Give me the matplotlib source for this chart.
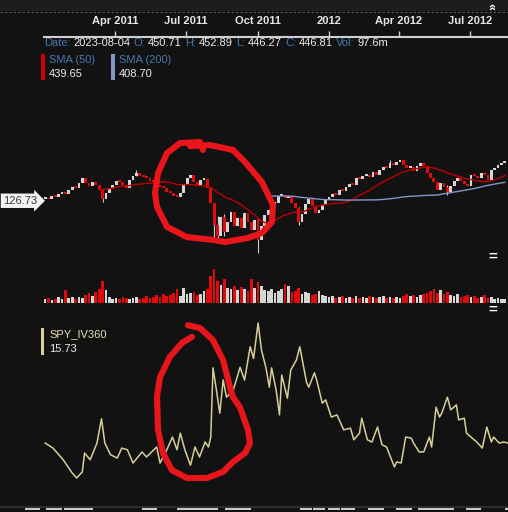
import numpy as np
import pandas as pd
import matplotlib
matplotlib.use("Agg")
import matplotlib.pyplot as plt
from matplotlib.patches import Rectangle
from matplotlib.lines import Line2D
from matplotlib.transforms import blended_transform_factory

W, H = 508, 512
BG = "#121212"
BLUE = "#4677ad"
WHITE = "#ececec"
UP = "#d6d6d6"
DOWN = "#e00c0c"
IVC = "#d6cf98"
INK = "#e8161b"
plt.rcParams["font.family"] = ["Liberation Sans", "DejaVu Sans"]

# x axis = trading days since 3 Jan 2011
tick_days = [62, 125, 189, 252, 314, 377]
tick_labels = ["Apr 2011", "Jul 2011", "Oct 2011", "2012", "Apr 2012", "Jul 2012"]

# one candle every 3 trading days
candle_days = np.arange(0, 409, 3)
first_open = 127.3
closes = [127.7, 127.2, 128.4, 128.0, 129.2, 129.9, 129.3, 130.6, 131.9, 131.4,
          133.2, 135.0, 133.2, 132.1, 133.5, 132.5, 130.6, 127.4, 129.6, 131.4,
          132.5, 133.9, 133.5, 132.5, 131.4, 134.3, 135.7, 136.8, 135.7, 135.4,
          135.0, 133.9, 133.5, 132.5, 131.7, 131.4, 129.9, 129.5, 128.5, 128.1,
          129.6, 132.5, 135.0, 136.1, 133.5, 132.5, 134.3, 134.6, 131.4, 125.9,
          117.9, 113.9, 120.8, 115.4, 119.0, 122.6, 117.5, 120.5, 116.8, 122.3,
          119.0, 116.1, 119.7, 112.5, 117.5, 121.5, 123.4, 125.5, 125.9, 128.5,
          128.8, 127.7, 128.1, 125.9, 124.1, 119.0, 121.9, 125.5, 127.4, 124.8,
          122.3, 123.4, 125.2, 127.0, 128.1, 129.2, 128.8, 130.6, 130.2, 131.7,
          132.8, 132.4, 135.0, 134.6, 135.7, 136.1, 135.5, 137.2, 136.1, 137.9,
          139.0, 138.5, 140.5, 139.7, 140.8, 141.5, 139.7, 138.6, 139.0, 137.5,
          139.4, 140.5, 139.4, 136.8, 135.0, 133.5, 130.6, 133.2, 131.7, 129.9,
          132.1, 133.9, 135.0, 133.9, 132.8, 132.1, 136.1, 135.7, 135.0, 136.8,
          136.1, 134.3, 137.9, 138.6, 139.7, 140.5, 141.1]
volume_m = [80, 100, 60, 80, 120, 80, 260, 100, 120, 80,
            120, 100, 160, 200, 140, 220, 280, 440, 260, 120,
            80, 100, 80, 120, 100, 80, 100, 120, 80, 100,
            140, 100, 120, 160, 120, 180, 140, 160, 200, 280,
            140, 300, 180, 200, 220, 160, 180, 240, 280, 540,
            680, 440, 360, 480, 300, 280, 340, 260, 320, 280,
            240, 480, 300, 420, 340, 260, 240, 280, 200, 240,
            280, 380, 340, 220, 240, 300, 180, 220, 200, 160,
            180, 240, 160, 140, 120, 140, 100, 120, 140, 100,
            120, 100, 140, 100, 120, 100, 140, 120, 100, 120,
            140, 100, 120, 100, 120, 100, 140, 180, 140, 160,
            120, 160, 180, 200, 240, 280, 200, 260, 180, 220,
            160, 140, 180, 120, 140, 160, 120, 140, 100, 120,
            160, 100, 120, 80, 100, 80, 80]

# a few visible wicks
wick_days = [51, 81, 150, 153, 159, 189, 225, 306, 357]
wick_lo = [126.3, 135.9, 111.8, 112.3, 114.0, 107.8, 117.8, 139.6, 128.9]
wick_hi = [129.9, 138.0, 126.0, 121.0, 122.0, 120.5, 124.3, 141.4, 132.6]

iv_days = [0, 7, 16, 24, 28, 33, 35, 40, 46, 50, 53, 58, 64, 68, 73, 78, 86, 90,
           99, 102, 108, 113, 117, 120, 124, 129, 133, 137, 142, 145, 147, 149,
           152, 155, 158, 161, 167, 173, 177, 182, 185, 189, 192, 196, 199, 201,
           205, 208, 210, 215, 218, 223, 226, 232, 234, 239, 241, 246, 249, 254,
           259, 265, 271, 274, 279, 281, 286, 290, 295, 299, 303, 310, 312, 316,
           320, 325, 327, 332, 336, 341, 343, 347, 350, 352, 357, 360, 365, 367,
           372, 374, 379, 383, 388, 392, 396, 398, 403, 407, 411]
iv_vals = [18.3, 17.4, 15.3, 12.9, 12.0, 13.1, 16.5, 15.3, 18.3, 22.7, 18.3, 16.2,
           15.6, 17.4, 17.1, 14.7, 16.7, 15.8, 17.6, 14.7, 17.1, 19.4, 17.1, 20.1,
           17.1, 14.3, 17.6, 15.8, 18.5, 17.6, 19.4, 31.9, 27.9, 23.7, 29.7, 26.6,
           27.9, 32.0, 29.7, 35.7, 33.6, 40.0, 35.1, 31.9, 28.4, 31.9, 27.9, 23.4,
           30.6, 26.4, 31.5, 33.3, 35.7, 29.3, 28.4, 31.0, 29.7, 25.5, 26.1, 23.0,
           23.4, 20.7, 21.0, 18.9, 20.1, 22.8, 18.9, 18.5, 21.2, 18.0, 17.6, 14.0,
           14.9, 14.7, 19.4, 19.2, 18.3, 16.7, 16.7, 19.4, 17.6, 24.8, 23.0, 23.7,
           26.6, 24.3, 25.2, 22.5, 22.8, 20.1, 19.2, 18.5, 17.4, 21.2, 18.5, 19.4,
           18.3, 18.5, 18.3]

# hand-drawn red marks
ring1_days = [140.1, 137.4, 119.7, 108.2, 100.2, 97.5, 99.3, 108.2, 125.9, 149.0,
              159.7, 180.0, 192.5, 201.3, 202.2, 192.5, 177.4, 166.7, 146.3, 128.6]
ring1_price = [145.2, 148.1, 147.7, 144.1, 136.8, 129.5, 124.5, 117.2, 113.5, 112.5,
               111.7, 113.2, 115.0, 119.0, 125.2, 133.5, 140.8, 145.2, 147.0, 146.6]
ring2_days = [130.4, 121.5, 110.8, 101.9, 99.3, 100.2, 104.6, 112.6, 125.9, 143.7,
              157.9, 166.7, 177.4, 181.8, 180.0, 172.9, 166.7, 164.1, 157.9, 149.0,
              137.4, 126.8]
ring2_iv = [37.5, 36.4, 33.9, 30.2, 26.6, 20.7, 16.5, 13.4, 12.0, 12.0, 13.1, 14.9,
            16.5, 18.3, 20.7, 24.8, 26.6, 28.4, 33.3, 36.9, 39.1, 39.6]

closes = np.array(closes)
opens = np.concatenate([[first_open], closes[:-1]])
colors = [UP if c >= o else DOWN for o, c in zip(opens, closes)]
sma50 = pd.Series(closes).rolling(17).mean()
sma200 = pd.Series(closes).rolling(67).mean()

fig = plt.figure(figsize=(W / 100, H / 100), dpi=100, facecolor=BG)


def px_rect(x0, y0, x1, y1, color):
    fig.add_artist(Rectangle((x0 / W, 1 - y1 / H), (x1 - x0) / W, (y1 - y0) / H,
                             transform=fig.transFigure, color=color, lw=0))


def px_axes(top, bottom):
    ax = fig.add_axes([44 / W, 1 - bottom / H, 464 / W, (bottom - top) / H])
    ax.set_facecolor("none")
    for s in ax.spines.values():
        s.set_visible(False)
    ax.set_xlim(-1, 410.8)
    ax.set_xticks([])
    ax.set_yticks([])
    return ax


# top toolbar strip
px_rect(0, 0, W, 11, "#1d1d1d")
fig.add_artist(Line2D([0, 1], [1 - 11.5 / H] * 2, transform=fig.transFigure,
                      color="#5a5a5a", lw=0.8, ls=(0, (2, 2))))
fig.text(493 / W, 1 - 6 / H, "»", rotation=90, color="white", fontsize=9,
         ha="center", va="center", fontweight="bold")

# price panel
ax_p = px_axes(37, 258)
ax_p.set_ylim(105.9, 186.3)
ax_p.spines["top"].set_visible(True)
ax_p.spines["top"].set_color("#cfcfcf")
ax_p.spines["top"].set_linewidth(1.5)
ax_p.xaxis.tick_top()
ax_p.set_xticks(tick_days, tick_labels)
ax_p.tick_params(axis="x", direction="out", length=4, width=1, color="#cfcfcf",
                 labelcolor="#e6e6e6", labelsize=8, pad=4)
for lbl in ax_p.get_xticklabels():
    lbl.set_fontweight("bold")

ax_p.vlines(wick_days, wick_lo, wick_hi, colors="#cfcfcf", lw=0.8, zorder=2)
ax_p.bar(candle_days, np.maximum(np.abs(closes - opens), 0.7),
         bottom=np.minimum(opens, closes), width=2.5, color=colors, lw=0, zorder=3)
ax_p.plot(candle_days, sma50, color="#c00000", lw=1.0, zorder=4)
ax_p.plot(candle_days, sma200, color="#8796c8", lw=1.0, zorder=4)
ax_p.plot(ring1_days, ring1_price, color=INK, lw=4.4, solid_capstyle="round",
          solid_joinstyle="round", clip_on=False, zorder=10)

tr = blended_transform_factory(fig.transFigure, ax_p.transData)
ax_p.text(3 / W, 126.73, "126.73", transform=tr, ha="left", va="center",
          fontsize=8, color="#3a3a3a", clip_on=False,
          bbox=dict(boxstyle="rarrow,pad=0.2", fc="#f2f2f2", ec="none"))

# volume panel
ax_v = px_axes(262, 303)
ax_v.set_ylim(0, 820)
ax_v.bar(candle_days, volume_m, width=2.4, color=colors, lw=0)

# implied volatility panel
ax_i = px_axes(315, 505)
ax_i.set_ylim(7.12, 41.44)
ax_i.plot(iv_days, iv_vals, color=IVC, lw=1.1)
ax_i.plot(ring2_days, ring2_iv, color=INK, lw=4.4, solid_capstyle="round",
          solid_joinstyle="round", clip_on=False, zorder=10)

# panel menu icons
for yy in (257, 310):
    fig.text(493 / W, 1 - yy / H, "=", color="white", fontsize=11,
             ha="center", va="center", fontweight="bold")

# legends
fig.canvas.draw()
rend = fig.canvas.get_renderer()


def put_row(x, y, parts, size=8, gap=3):
    for s, c in parts:
        t = fig.text(x / W, 1 - y / H, s, color=c, fontsize=size,
                     ha="left", va="center")
        x += t.get_window_extent(renderer=rend).width + gap


put_row(44, 43, [("Date:", BLUE), ("2023-08-04", WHITE), ("O:", BLUE), ("450.71", WHITE),
                 ("H:", BLUE), ("452.89", WHITE), ("L:", BLUE), ("446.27", WHITE),
                 ("C:", BLUE), ("446.81", WHITE), ("Vol:", BLUE), ("97.6m", WHITE)])

px_rect(41, 54, 45, 80, "#cc0000")
put_row(49, 60, [("SMA (50)", BLUE)])
put_row(49, 74, [("439.65", WHITE)])
px_rect(111, 54, 115, 80, "#8796c8")
put_row(119, 60, [("SMA (200)", BLUE)])
put_row(119, 74, [("408.70", WHITE)])

px_rect(41, 328, 44, 355, IVC)
put_row(49, 334, [("SPY_IV360", "#e4dfb4")])
put_row(49, 349, [("15.73", WHITE)])

# bottom navigator strip
px_rect(0, 506, W, 508, "#2e2e2e")
for a, b in [(25, 40), (46, 62), (64, 93), (142, 157), (177, 218), (225, 251),
             (300, 312), (313, 325), (328, 340), (341, 355), (368, 384),
             (396, 412), (418, 454), (466, 481), (505, 508)]:
    px_rect(a, 508, b, 510, "#c9c9c9")

fig.savefig("out.png", dpi=100, facecolor=BG)
